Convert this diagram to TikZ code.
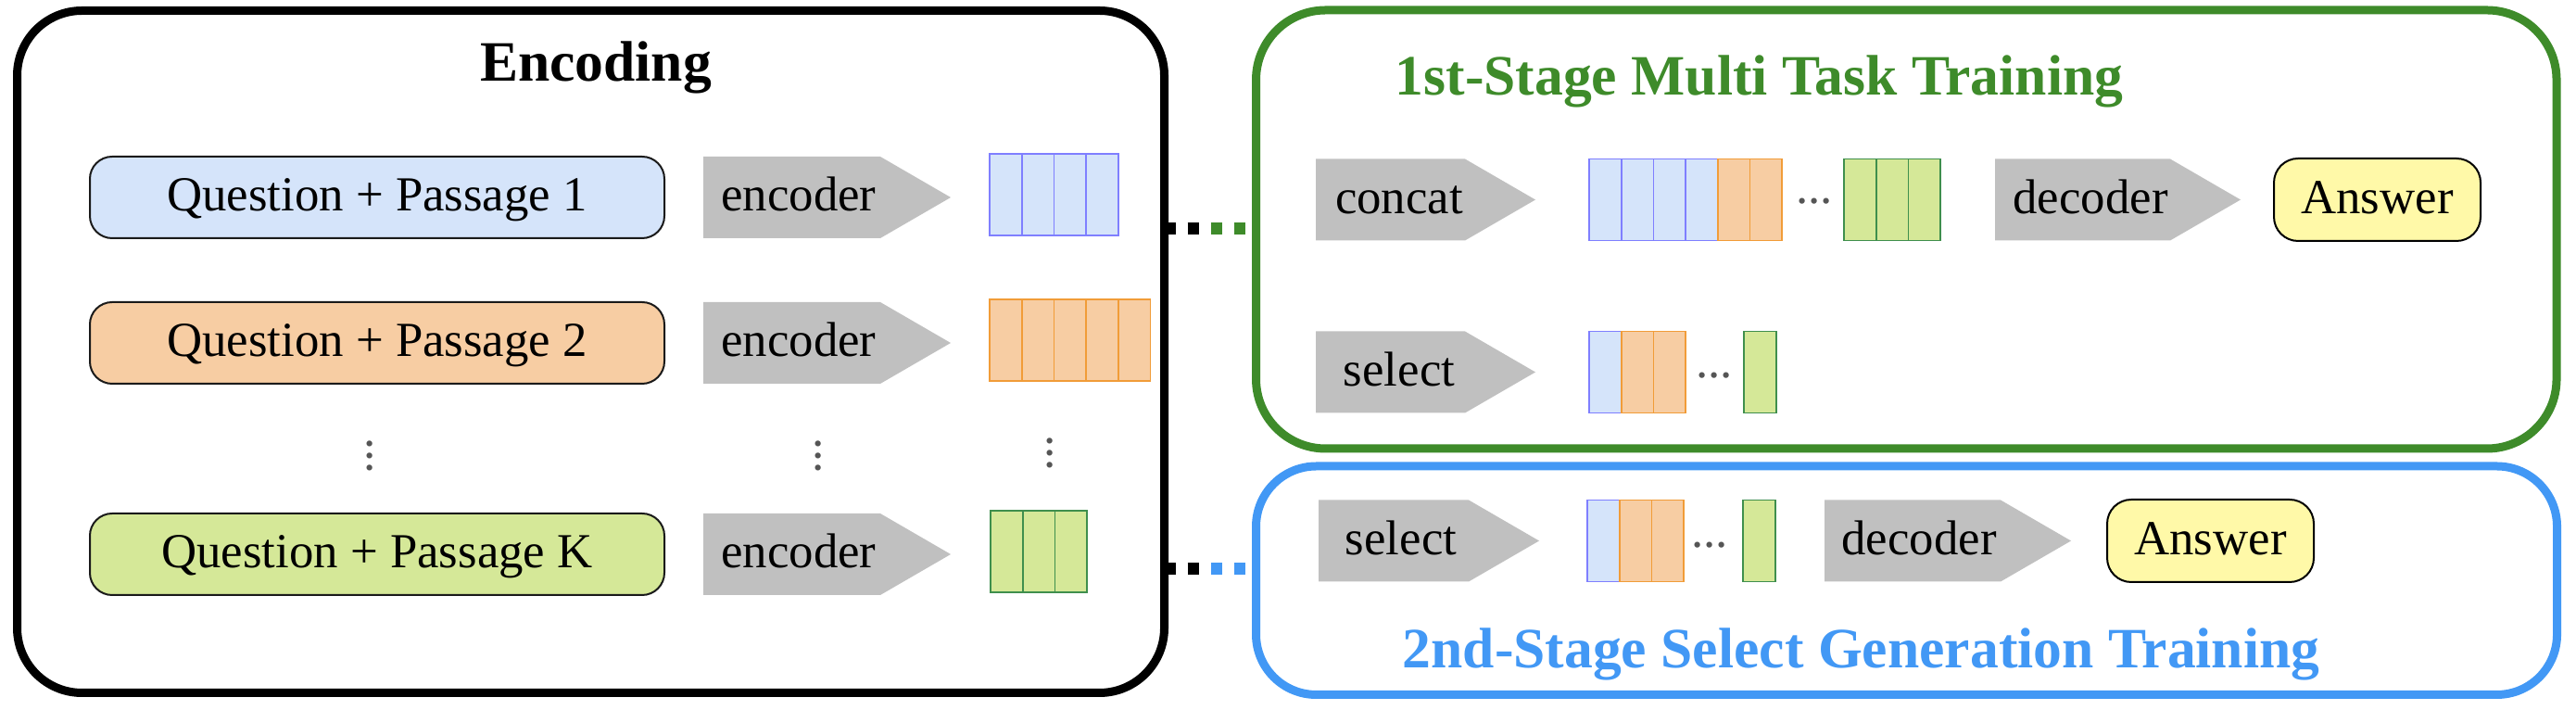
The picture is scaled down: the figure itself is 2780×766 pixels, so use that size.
\documentclass[tikz,border=0pt]{standalone}
\usepackage{fontspec}
\setmainfont{Liberation Serif}
\definecolor{stepgray}{HTML}{C0C0C0}
\definecolor{qline}{HTML}{1A1A1A}
\definecolor{bfill}{HTML}{D5E4FA}
\definecolor{bline}{HTML}{7F7FFF}
\definecolor{ofill}{HTML}{F7CDA3}
\definecolor{oline}{HTML}{F19C38}
\definecolor{gfill}{HTML}{D5E898}
\definecolor{gline}{HTML}{3F8F4D}
\definecolor{ansfill}{HTML}{FFF9A8}
\definecolor{dotgray}{HTML}{555555}
\definecolor{stageone}{HTML}{3E8B2A}
\definecolor{stagetwo}{HTML}{4298F5}
\newcommand\bodyfont{\fontsize{13.2pt}{16pt}\selectfont}
\newcommand\titlefont{\bfseries\fontsize{15.4pt}{18pt}\selectfont}
\newcommand\gstep[6]{%
  \fill[stepgray] (#2,#4-44) -- (#3,#4-44) -- (#3+76,#4) -- (#3,#4+44) -- (#2,#4+44) -- cycle;
  \node[txt] (#1) at (#6,#4) {#5};}
\begin{document}
\begin{tikzpicture}[x=0.25pt,y=-0.25pt,
  txt/.style={font=\bodyfont, text height=9.5pt, text depth=2pt, inner sep=0pt},
  qbox/.style={txt, draw=qline, line width=0.5pt, rounded corners=6pt, minimum width=155pt, minimum height=22pt},
  ans/.style={txt, draw=black, fill=ansfill, line width=0.5pt, rounded corners=6.5pt, minimum width=55.75pt, minimum height=22.25pt},
  cell/.style={line width=0.45pt, minimum width=8.675pt, minimum height=22pt, inner sep=0pt, outer sep=0pt},
  cb/.style={cell, draw=bline, fill=bfill},
  co/.style={cell, draw=oline, fill=ofill},
  cg/.style={cell, draw=gline, fill=gfill},
  dots/.style={font=\bodyfont, text=dotgray, inner sep=0pt},
  title/.style={font=\titlefont, anchor=base, inner sep=0pt},
  outerbox/.style={line width=2.25pt, inner sep=0pt, outer sep=0pt},
  conn/.style={line width=3.25pt, dash pattern=on 3pt off 3.25pt}
]
\useasboundingbox (0,0) rectangle (2780,766);

% outer frames
\node[outerbox, draw=black, rounded corners=17.5pt, minimum width=309.5pt, minimum height=184pt] (encbox) at (637.5,379.5) {};
\node[outerbox, draw=stageone, rounded corners=18.75pt, minimum width=350.875pt, minimum height=118.25pt] (stage1) at (2057.25,247.5) {};
\node[outerbox, draw=stagetwo, rounded corners=16.25pt, minimum width=351pt, minimum height=61.625pt] (stage2) at (2057.5,626.25) {};

% titles
\node[title] (t0) at (643,88) {Encoding};
\node[title, text=stageone] (t1) at (1898.5,102.5) {1st-Stage Multi Task Training};
\node[title, text=stagetwo] (t2) at (2008.5,721) {2nd-Stage Select Generation Training};

% encoding rows
\node[qbox, fill=bfill] (q1) at (407,213) {Question + Passage 1};
\node[qbox, fill=ofill] (q2) at (407,370) {Question + Passage 2};
\node[qbox, fill=gfill] (qk) at (407,598) {Question + Passage K};
\gstep{e1}{759}{950}{213}{encoder}{862}
\gstep{e2}{759}{950}{370}{encoder}{862}
\gstep{ek}{759}{950}{598}{encoder}{862}
\foreach \i in {0,...,3} \node[cb] (a\i) at ({1068+34.7*\i+17.35},210.25) {};
\foreach \i in {0,...,4} \node[co] (b\i) at ({1068+34.7*\i+17.35},367) {};
\foreach \i in {0,...,2} \node[cg] (k\i) at ({1069+34.7*\i+17.35},595) {};
\node[dots, rotate=90] (vd1) at (399,492) {...};
\node[dots, rotate=90] (vd2) at (883,492) {...};
\node[dots, rotate=90] (vd3) at (1133,489) {...};

% stage 1: concat row
\gstep{s1}{1420}{1581}{215.5}{concat}{1510}
\foreach \i in {0,...,3} \node[cb] (ca\i) at ({1715+34.7*\i+17.35},215.5) {};
\foreach \i in {0,...,1} \node[co] (cb\i) at ({1853.8+34.7*\i+17.35},215.5) {};
\node[dots] (cd) at (1958,217) {...};
\foreach \i in {0,...,2} \node[cg] (cc\i) at ({1990+34.7*\i+17.35},215.5) {};
\gstep{d1}{2153}{2342}{215.5}{decoder}{2256}
\node[ans] (ans1) at (2565.5,215.5) {Answer};

% stage 1: select row
\gstep{s2}{1420}{1581}{401.5}{select}{1510}
\node[cb] (sa0) at (1732.35,401.5) {};
\foreach \i in {0,...,1} \node[co] (sb\i) at ({1749.7+34.7*\i+17.35},401.5) {};
\node[dots] (sd) at (1850,405) {...};
\node[cg] (sc0) at (1899.35,401.5) {};

% stage 2 row
\gstep{s3}{1423}{1585}{583.5}{select}{1512}
\node[cb] (ta0) at (1730.35,583.5) {};
\foreach \i in {0,...,1} \node[co] (tb\i) at ({1747.7+34.7*\i+17.35},583.5) {};
\node[dots] (td) at (1845,588) {...};
\node[cg] (tc0) at (1898.35,583.5) {};
\gstep{d2}{1969}{2159}{583.5}{decoder}{2071}
\node[ans] (ans2) at (2385.5,583.5) {Answer};

% dashed links
\coordinate (j1) at (1300,246.5);
\coordinate (j2) at (1300,614);
\draw[conn, black] (encbox.east |- j1) -- ([xshift=-1.5pt]j1);
\draw[conn, stageone] ([xshift=1.625pt]j1) -- (stage1.west |- j1);
\draw[conn, black] (encbox.east |- j2) -- ([xshift=-1.5pt]j2);
\draw[conn, stagetwo] ([xshift=1.625pt]j2) -- (stage2.west |- j2);
\end{tikzpicture}
\end{document}
